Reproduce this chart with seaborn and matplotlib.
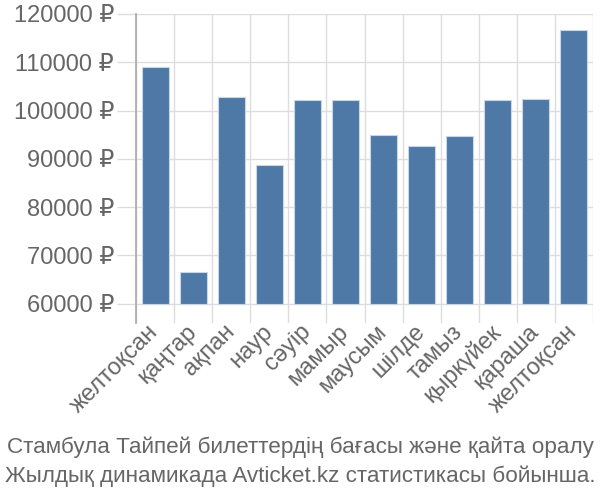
import numpy as np
import pandas as pd
import seaborn as sns
import matplotlib.pyplot as plt

sns.set_theme(style="white")
plt.rcParams['font.family'] = ['Liberation Sans', 'DejaVu Sans']

# data
months = ["желтоқсан", "қаңтар", "ақпан", "наур", "сәуір", "мамыр",
          "маусым", "шілде", "тамыз", "қыркүйек", "қараша", "желтоқсан"]
prices = [109000, 66550, 102850, 88750, 102250, 102250,
          94950, 92700, 94700, 102250, 102350, 116650]
yticks = [60000, 70000, 80000, 90000, 100000, 110000, 120000]
base = 60000

df = pd.DataFrame({"idx": range(len(months)), "price": prices})
df["height"] = df["price"] - base

fig = plt.figure(figsize=(6, 5), dpi=100)
ax = fig.add_axes([0.227, 0.354, 0.761, 0.618])

sns.barplot(data=df, x="idx", y="height", bottom=base, color="#4e79a7",
            saturation=1, width=0.72, edgecolor="#c9d6e6", linewidth=0.8, ax=ax)

ax.set_ylim(56000, 120000)
ax.set_xlim(-0.5, len(months) - 0.5)

# horizontal grid + y ticks
ax.set_yticks(yticks, [f"{v} ₽" for v in yticks])
ax.yaxis.grid(True, color="#dddddd", linewidth=1)
ax.tick_params(axis="y", length=14, color="#dddddd", width=1, pad=2,
               labelsize=17, labelcolor="#666666", left=True)

# vertical lines between categories
ax.set_xticks(np.arange(-0.5, len(months)), minor=True)
ax.xaxis.grid(True, which="minor", color="#dddddd", linewidth=1)
ax.set_xticks(range(len(months)), months)
ax.tick_params(axis="x", which="both", length=0)
ax.tick_params(axis="x", which="major", labelsize=17, labelcolor="#666666", pad=4)
for lab in ax.get_xticklabels():
    lab.set_rotation(45)
    lab.set_ha("right")
    lab.set_va("center")
    lab.set_rotation_mode("anchor")

ax.set_axisbelow(True)
for s in ["top", "right", "bottom"]:
    ax.spines[s].set_visible(False)
ax.spines["left"].set_color("#aaaaaa")
ax.set_xlabel("")
ax.set_ylabel("")

fig.text(0.5, 0.106, "Стамбула Тайпей билеттердің бағасы және қайта оралу",
         ha="center", va="center", fontsize=16.2, color="#666666")
fig.text(0.5, 0.048, "Жылдық динамикада Avticket.kz статистикасы бойынша.",
         ha="center", va="center", fontsize=16.2, color="#666666")

fig.savefig("out.png", dpi=100)
